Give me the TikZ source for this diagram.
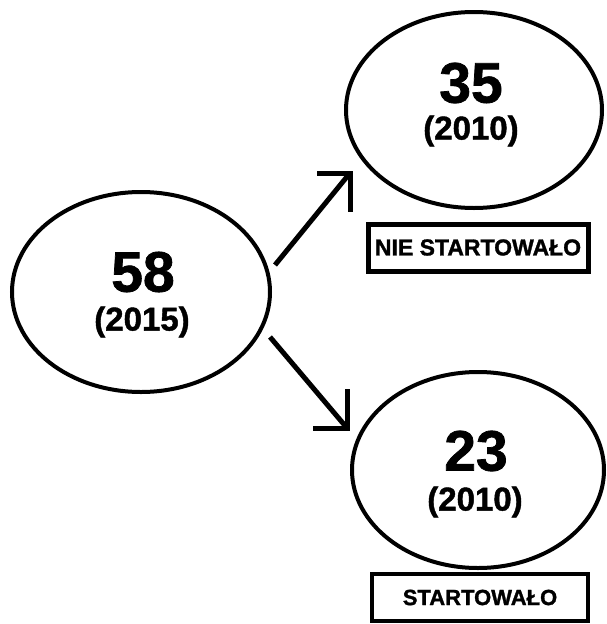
\documentclass[tikz,border=0pt]{standalone}
\usepackage{fontspec}
\setmainfont{Liberation Sans}
\newfontfamily\heavy[FakeBold=1.3]{Liberation Sans Bold}
\usetikzlibrary{shapes.geometric}
\begin{document}
\begin{tikzpicture}[x=1pt,y=-1pt,
  oval/.style={ellipse, draw, line width=4pt, inner sep=0pt},
  big/.style={font=\fontsize{57}{57}\selectfont\heavy, inner sep=0pt},
  yr/.style={font=\fontsize{33}{33}\selectfont\heavy, inner sep=0pt},
  tag/.style={draw, line width=5pt, inner sep=0pt, minimum height=47pt},
  conn/.style={line width=5pt},
  head/.style={line width=5pt, line join=miter}]
\useasboundingbox[fill=white] (0,0) rectangle (606,624);
% ellipses
\node[oval, minimum width=258pt, minimum height=200pt] (L) at (141,292) {};
\node[oval, minimum width=256pt, minimum height=196pt] (T) at (474,110) {};
\node[oval, minimum width=252pt, minimum height=196pt] (B) at (478,470) {};
% texts
\node[big] (n58) at (143,272) {58};
\node[yr] (y2015) at (142,322) {(2015)};
\node[big] (n35) at (471,83) {35};
\node[yr] (y2010a) at (471,131) {(2010)};
\node[big] (n23) at (476,451) {23};
\node[yr] (y2010b) at (475,502) {(2010)};
% tags
\node[tag, minimum width=220pt, font=\fontsize{23}{23}\selectfont\heavy] (t1) at (478,247.5) {NIE STARTOWAŁO};
\node[tag, minimum width=216pt, line width=4.5pt, font=\fontsize{22}{22}\selectfont\heavy] (t2) at (480,597.5) {STARTOWAŁO};
% arrows
\coordinate (a1s) at (275,265);
\coordinate (a1e) at (350,173);
\coordinate (a2s) at (270,337);
\coordinate (a2e) at (347,428);
\draw[conn] (a1s) -- (a1e);
\draw[head] ([xshift=-33pt]a1e) -- (a1e) -- ([yshift=-39pt]a1e);
\draw[conn] (a2s) -- (a2e);
\draw[head] ([xshift=-34pt]a2e) -- (a2e) -- ([yshift=39pt]a2e);
\end{tikzpicture}
\end{document}
